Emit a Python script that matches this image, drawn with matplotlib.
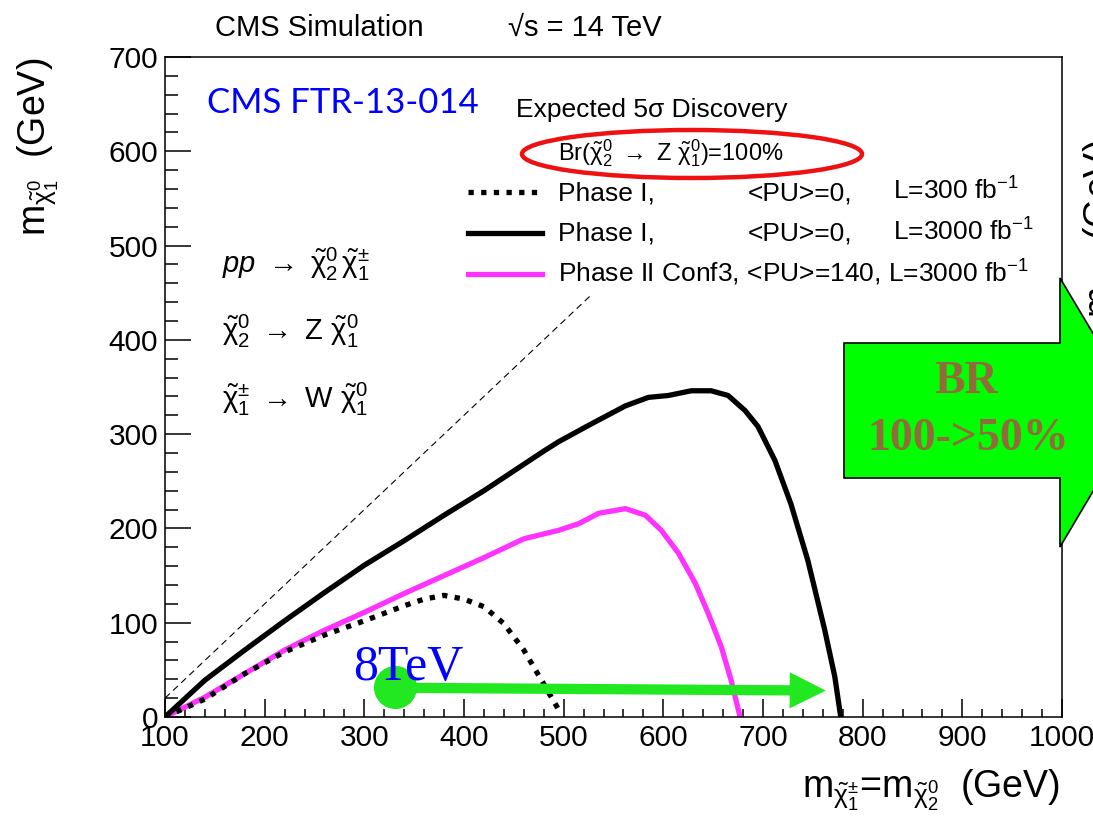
import numpy as np
import matplotlib
matplotlib.use("Agg")
import matplotlib.pyplot as plt
from matplotlib.patches import Ellipse, Polygon
from matplotlib.lines import Line2D
from matplotlib.ticker import MultipleLocator

plt.rcParams['font.family'] = ['Liberation Sans', 'DejaVu Sans']
plt.rcParams['mathtext.fontset'] = 'custom'
plt.rcParams['mathtext.rm'] = 'Liberation Sans'
plt.rcParams['mathtext.it'] = 'Liberation Sans:italic'
plt.rcParams['mathtext.bf'] = 'Liberation Sans:bold'

# ── data (GeV) ─────────────────────────────────────────────────
# Phase I, <PU>=0, L=300 fb-1 (dotted)
x_p1_300 = [100, 140, 180, 220, 260, 300, 340, 360, 380, 400, 420, 440, 460, 480, 497]
y_p1_300 = [0, 19, 46, 69, 87, 102, 118, 125, 129, 125, 117, 99, 71, 35, 4]

# Phase I, <PU>=0, L=3000 fb-1 (solid black)
x_p1_3000 = [100, 140, 180, 220, 260, 300, 340, 380, 420, 460, 480, 495, 528, 562,
             585, 605, 628, 648, 665, 682, 695, 712, 728, 745, 762, 772, 778]
y_p1_3000 = [0, 39, 71, 102, 132, 161, 187, 214, 240, 268, 282, 292, 311, 330,
             339, 341, 346, 346, 341, 325, 308, 272, 226, 166, 92, 43, 0]

# Phase II Conf3, <PU>=140, L=3000 fb-1 (magenta)
x_p2 = [100, 140, 180, 220, 260, 300, 340, 380, 420, 460, 495, 515, 535, 562,
        582, 598, 615, 632, 645, 658, 668, 677]
y_p2 = [0, 21, 46, 71, 92, 111, 131, 150, 169, 189, 198, 205, 216, 221,
        214, 198, 174, 142, 110, 75, 39, 0]

# kinematic limit (thin dashed)
x_kin = [100, 527]
y_kin = [20, 447]

# 8 TeV reach -> 14 TeV reach arrow
reach_x = [331, 763]
reach_y = [31, 28]

x_ticks = list(range(100, 1001, 100))
y_ticks = list(range(0, 701, 100))

GREEN = '#22e822'
MAGENTA = '#ff33ff'

W, H = 1093, 832


def fx(px):
    return px / W


def fy(py):
    return 1 - py / H


fig = plt.figure(figsize=(10.93, 8.32), dpi=100)
ax = fig.add_axes([fx(165), fy(717), fx(1062) - fx(165), fy(57) - fy(717)])

ax.plot(x_kin, y_kin, color='black', lw=0.8, ls=(0, (6, 4)))
ax.plot(x_p2, y_p2, color=MAGENTA, lw=3.8, solid_joinstyle='round')
ax.plot(x_p1_300, y_p1_300, color='black', lw=3.8, ls=(0, (1.0, 1.4)), dash_capstyle='butt')
ax.plot(x_p1_3000, y_p1_3000, color='black', lw=3.8, solid_joinstyle='round')

# 8TeV marker + arrow
ax.annotate('', xy=(reach_x[1], reach_y[1]), xytext=(reach_x[0], reach_y[0]),
            arrowprops=dict(arrowstyle='simple,head_length=1.3,head_width=1.3,tail_width=0.37',
                            mutation_scale=20, color=GREEN, lw=0, shrinkA=0, shrinkB=0),
            zorder=5)
ax.plot(reach_x[0], reach_y[0] + 1, 'o', ms=30, color=GREEN, zorder=6)
ax.text(289, 39, '8TeV', color='blue', fontsize=36, family='Liberation Serif',
        va='baseline', ha='left', zorder=7)

ax.set_xlim(100, 1000)
ax.set_ylim(0, 700)
ax.set_xticks(x_ticks)
ax.set_yticks(y_ticks)
ax.xaxis.set_minor_locator(MultipleLocator(20))
ax.yaxis.set_minor_locator(MultipleLocator(20))
ax.tick_params(axis='both', which='both', direction='in', width=1.1, labelsize=21.5, pad=5)
ax.tick_params(axis='x', which='major', length=13)
ax.tick_params(axis='x', which='minor', length=6)
ax.tick_params(axis='y', which='major', length=19)
ax.tick_params(axis='y', which='minor', length=9.5)
for s in ax.spines.values():
    s.set_linewidth(1.1)

chi = r'\tilde{\mathrm{\chi}}'

# axis titles
fig.text(fx(1060), fy(797), r'm$_{%s^{\pm}_{1}}$=m$_{%s^{0}_{2}}$  (GeV)' % (chi, chi),
         ha='right', va='baseline', fontsize=27)
fig.text(fx(45), fy(58), r'm$_{%s^{0}_{1}}$  (GeV)' % chi, rotation=90,
         rotation_mode='anchor', ha='right', va='baseline', fontsize=27)
# edge of the neighbouring plot's y title
fig.text(fx(1111), fy(140), r'm$_{%s^{0}_{1}}$  (GeV)' % chi, rotation=90,
         rotation_mode='anchor', ha='right', va='baseline', fontsize=27)

# header
fig.text(fx(215), fy(36), 'CMS Simulation', fontsize=21, va='baseline')
fig.text(fx(508), fy(36), '√s = 14 TeV', fontsize=21, va='baseline')

fig.text(fx(207), fy(113), 'CMS FTR-13-014', color='blue', fontsize=25,
         family='Lato', va='baseline')

# process
fig.text(fx(222), fy(273), r'$pp\ \rightarrow\ %s^{0}_{2}\,%s^{\pm}_{1}$' % (chi, chi),
         fontsize=21, va='baseline')
fig.text(fx(222), fy(340), r'$%s^{0}_{2}\ \rightarrow\ \mathrm{Z}\ %s^{0}_{1}$' % (chi, chi),
         fontsize=21, va='baseline')
fig.text(fx(222), fy(408), r'$%s^{\pm}_{1}\ \rightarrow\ \mathrm{W}\ %s^{0}_{1}$' % (chi, chi),
         fontsize=21, va='baseline')

# legend
fig.text(fx(516), fy(117), 'Expected 5σ Discovery', fontsize=19, va='baseline')
fig.text(fx(558), fy(160), r'Br($%s^{0}_{2}$ $\rightarrow$ Z $%s^{0}_{1}$)=100%%' % (chi, chi),
         fontsize=17, va='baseline')
fig.add_artist(Ellipse((fx(692), fy(154)), fx(340), 48 / H, fill=False,
                       edgecolor='#ee1111', lw=3.2, transform=fig.transFigure))

rows = [192, 233, 274]
styles = [dict(color='black', lw=3.8, ls=(0, (1.0, 1.4)), dash_capstyle='butt'),
          dict(color='black', lw=3.8),
          dict(color=MAGENTA, lw=3.8)]
for r, st in zip(rows, styles):
    fig.add_artist(Line2D([fx(468), fx(542)], [fy(r), fy(r)], transform=fig.transFigure, **st))

fig.text(fx(558), fy(200), 'Phase I,', fontsize=19, va='baseline')
fig.text(fx(748), fy(200), '<PU>=0,', fontsize=19, va='baseline')
fig.text(fx(893), fy(200), r'L=300 fb$^{-1}$', fontsize=19, va='baseline')
fig.text(fx(558), fy(241), 'Phase I,', fontsize=19, va='baseline')
fig.text(fx(748), fy(241), '<PU>=0,', fontsize=19, va='baseline')
fig.text(fx(893), fy(241), r'L=3000 fb$^{-1}$', fontsize=19, va='baseline')
fig.text(fx(558), fy(282), r'Phase II Conf3, <PU>=140, L=3000 fb$^{-1}$', fontsize=19, va='baseline')

# BR block arrow
arrow_px = [(844, 343), (1060, 343), (1060, 278), (1140, 412), (1060, 547), (1060, 478), (844, 478)]
fig.add_artist(Polygon([(fx(a), fy(b)) for a, b in arrow_px], closed=True,
                       facecolor='#00ff00', edgecolor='black', lw=1.2,
                       transform=fig.transFigure, zorder=10))
fig.text(fx(966), fy(393), 'BR', color='#936a3c', fontsize=33, fontweight='bold',
         family='Liberation Serif', ha='center', va='baseline', zorder=11)
fig.text(fx(968), fy(450), '100->50%', color='#936a3c', fontsize=33, fontweight='bold',
         family='Liberation Serif', ha='center', va='baseline', zorder=11)

fig.savefig('out.png', dpi=100)
